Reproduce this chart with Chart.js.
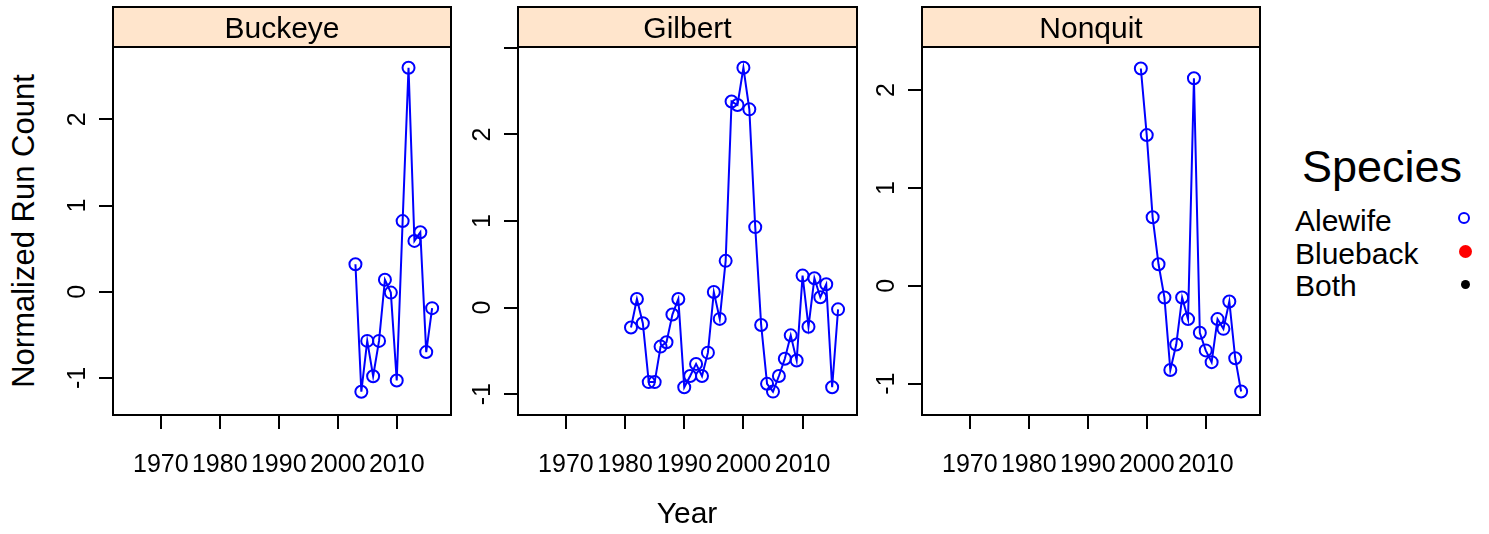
<!DOCTYPE html>
<html><head><meta charset="utf-8">
<script src="https://cdn.jsdelivr.net/npm/chart.js@4/dist/chart.umd.min.js"></script>
<style>
html,body{margin:0;padding:0;background:#fff;}
#wrap{position:relative;width:1489px;height:534px;overflow:hidden;font-family:'Liberation Sans',Arial,Helvetica,sans-serif;color:#000;}
#wrap canvas{position:absolute;top:0;}
.t{position:absolute;white-space:nowrap;line-height:1;}
.dot{position:absolute;border-radius:50%;box-sizing:border-box;}
</style></head><body><div id="wrap"></div>
<script>
// ---------- data ----------
const panels = ['Buckeye', 'Gilbert', 'Nonquit'];

const buckeyeYears  = [2003,2004,2005,2006,2007,2008,2009,2010,2011,2012,2013,2014,2015,2016];
const buckeyeValues = [0.32,-1.16,-0.57,-0.98,-0.57,0.14,-0.01,-1.03,0.82,2.60,0.59,0.69,-0.70,-0.19];

const gilbertYears  = [1981,1982,1983,1984,1985,1986,1987,1988,1989,1990,1991,1992,1993,1994,1995,1996,1997,1998,
                       1999,2000,2001,2002,2003,2004,2005,2006,2007,2008,2009,2010,2011,2012,2013,2014,2015,2016];
const gilbertValues = [-0.23,0.10,-0.18,-0.86,-0.86,-0.45,-0.40,-0.08,0.10,-0.92,-0.79,-0.65,-0.79,-0.52,0.18,-0.13,0.54,2.38,
                       2.34,2.77,2.29,0.93,-0.20,-0.88,-0.97,-0.79,-0.59,-0.32,-0.61,0.37,-0.22,0.34,0.12,0.27,-0.92,-0.02];

const nonquitYears  = [1999,2000,2001,2002,2003,2004,2005,2006,2007,2008,2009,2010,2011,2012,2013,2014,2015,2016];
const nonquitValues = [2.22,1.54,0.70,0.22,-0.12,-0.86,-0.60,-0.12,-0.34,2.12,-0.48,-0.66,-0.78,-0.34,-0.44,-0.16,-0.74,-1.08];

const xTicks = [1970, 1980, 1990, 2000, 2010];
const yTicksBuckeye = [-1, 0, 1, 2];
const yLabelsBuckeye = ['-1', '0', '1', '2'];
const yTicksGilbert = [-1, 0, 1, 2, 3];
const yLabelsGilbert = ['-1', '0', '1', '2', ''];
const yTicksNonquit = [-1, 0, 1, 2];
const yLabelsNonquit = ['-1', '0', '1', '2'];

const legendTitle = 'Species';
const legendLabels = ['Alewife', 'Blueback', 'Both'];
const legendColors = ['#0000FF', '#FF0000', '#000000'];

// ---------- layout / style ----------
const FONT = "'Liberation Sans', Arial, Helvetica, sans-serif";
const H = 534;
const STRIP_TOP = 7, BOX_TOP = 47, BOX_BOTTOM = 415;
const XMIN = 1961.9, XMAX = 2019.2;
const boxes = [
  { left: 113, right: 451, ymin: -1.43, ymax: 2.84 },
  { left: 518, right: 857, ymin: -1.24, ymax: 3.01 },
  { left: 922, right: 1260, ymin: -1.32, ymax: 2.44 }
];
const wrap = document.getElementById('wrap');

function stripBoxPlugin(name) {
  return {
    id: 'stripbox',
    afterDraw(chart) {
      const { ctx, chartArea: a } = chart;
      ctx.save();
      ctx.lineWidth = 2;
      ctx.strokeStyle = '#000';
      ctx.fillStyle = '#FFE5CC';
      ctx.fillRect(a.left, STRIP_TOP, a.right - a.left, a.top - STRIP_TOP);
      ctx.strokeRect(a.left, STRIP_TOP, a.right - a.left, a.top - STRIP_TOP);
      ctx.strokeRect(a.left, a.top, a.right - a.left, a.bottom - a.top);
      ctx.fillStyle = '#000';
      ctx.font = '30px ' + FONT;
      ctx.textAlign = 'center';
      ctx.textBaseline = 'middle';
      ctx.fillText(name, (a.left + a.right) / 2, (STRIP_TOP + a.top) / 2 + 3);
      ctx.restore();
    }
  };
}

function makePanel(i, years, values, yTicks, yLabels) {
  const b = boxes[i];
  const LEFT = 70, RIGHT = 12;
  const w = b.right - b.left + LEFT + RIGHT;
  const cv = document.createElement('canvas');
  cv.width = w; cv.height = H;
  cv.style.left = (b.left - LEFT) + 'px';
  cv.style.width = w + 'px'; cv.style.height = H + 'px';
  wrap.appendChild(cv);
  const grid = { display: true, drawOnChartArea: false, drawTicks: true, tickLength: 14, color: '#000', lineWidth: 2 };
  new Chart(cv, {
    type: 'line',
    data: {
      datasets: [{
        label: legendLabels[0],
        data: years.map((x, k) => ({ x: x, y: values[k] })),
        borderColor: legendColors[0], borderWidth: 2,
        pointRadius: 6, pointHoverRadius: 6, pointBorderWidth: 2,
        pointBackgroundColor: 'rgba(0,0,0,0)', pointBorderColor: legendColors[0],
        fill: false, tension: 0
      }]
    },
    options: {
      responsive: false, animation: false, devicePixelRatio: 1,
      layout: { padding: { left: 0, top: BOX_TOP, right: RIGHT, bottom: 0 } },
      plugins: { legend: { display: false }, tooltip: { enabled: false } },
      scales: {
        x: {
          type: 'linear', position: 'bottom', min: XMIN, max: XMAX,
          afterBuildTicks: s => { s.ticks = xTicks.map(v => ({ value: v })); },
          afterFit: s => { s.height = H - BOX_BOTTOM; },
          ticks: { autoSkip: false, minRotation: 0, maxRotation: 0, color: '#000',
                   font: { family: FONT, size: 25 }, padding: 21,
                   callback: (v, idx) => String(xTicks[idx]) },
          grid: grid, border: { display: false }
        },
        y: {
          type: 'linear', position: 'left', min: b.ymin, max: b.ymax,
          afterBuildTicks: s => { s.ticks = yTicks.map(v => ({ value: v })); },
          afterFit: s => { s.width = LEFT; },
          ticks: { autoSkip: false, minRotation: 90, maxRotation: 90, crossAlign: 'center', color: '#000',
                   font: { family: FONT, size: 25 }, padding: 10,
                   callback: (v, idx) => yLabels[idx] },
          grid: grid, border: { display: false }
        }
      }
    },
    plugins: [stripBoxPlugin(panels[i])]
  });
}

makePanel(0, buckeyeYears, buckeyeValues, yTicksBuckeye, yLabelsBuckeye);
makePanel(1, gilbertYears, gilbertValues, yTicksGilbert, yLabelsGilbert);
makePanel(2, nonquitYears, nonquitValues, yTicksNonquit, yLabelsNonquit);

// ---------- axis titles & legend ----------
function addText(txt, css) {
  const d = document.createElement('div');
  d.className = 't';
  d.textContent = txt;
  Object.assign(d.style, css);
  wrap.appendChild(d);
  return d;
}
addText('Normalized Run Count', { left: '23px', top: '231px', fontSize: '31px',
  transform: 'translate(-50%,-50%) rotate(-90deg)' });
addText('Year', { left: '687px', top: '513px', fontSize: '30px', transform: 'translate(-50%,-50%)' });
addText(legendTitle, { left: '1302px', top: '144px', fontSize: '45px' });
const legendTops = [206, 239, 271];
const dotCenters = [[1464, 218], [1465, 251], [1465, 284]];
const dotRadii = [6, 6.5, 4.5];
legendLabels.forEach((lab, k) => {
  addText(lab, { left: '1295px', top: legendTops[k] + 'px', fontSize: '30px' });
  const d = document.createElement('div');
  d.className = 'dot';
  const r = dotRadii[k];
  Object.assign(d.style, {
    left: (dotCenters[k][0] - r) + 'px', top: (dotCenters[k][1] - r) + 'px',
    width: (2 * r) + 'px', height: (2 * r) + 'px'
  });
  if (k === 0) d.style.border = '2px solid ' + legendColors[k];
  else d.style.background = legendColors[k];
  wrap.appendChild(d);
});
</script></body></html>
